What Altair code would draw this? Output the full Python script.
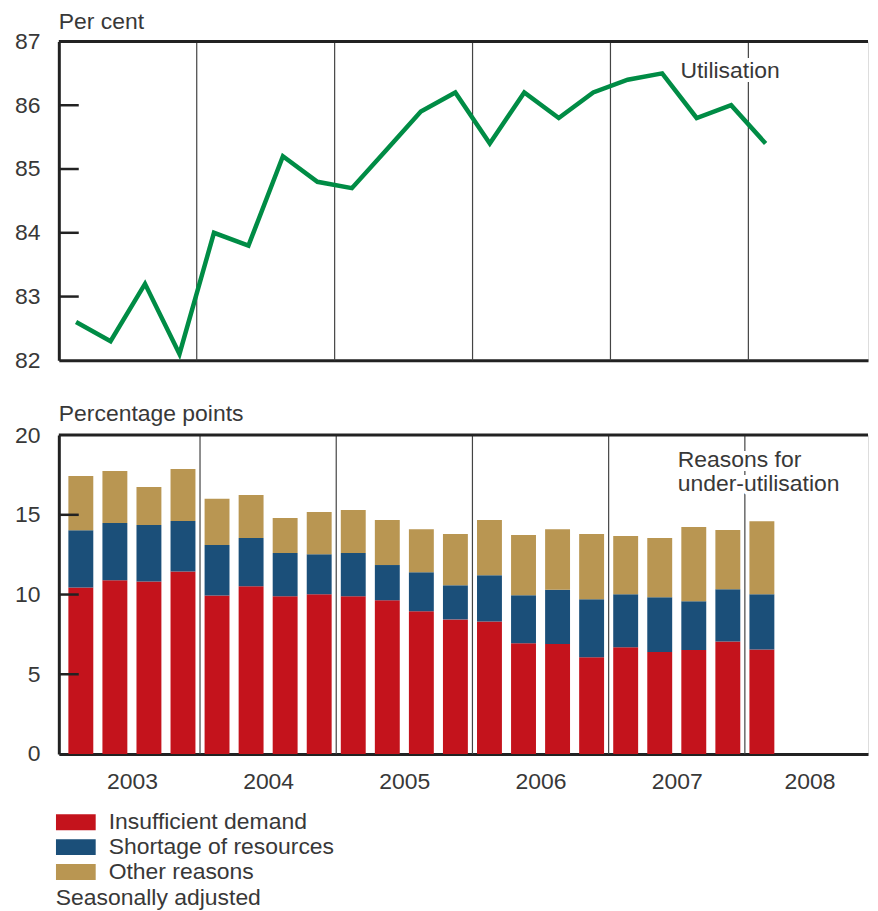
import altair as alt
import pandas as pd

# ---------------- data ----------------
quarters = [f"{y} Q{q}" for y in range(2003, 2008) for q in range(1, 5)] + ["2008 Q1"]
utilisation = [82.6, 82.3, 83.2, 82.1, 84.0, 83.8, 85.2, 84.8, 84.7, 85.3, 85.9,
               86.2, 85.4, 86.2, 85.8, 86.2, 86.4, 86.5, 85.8, 86.0, 85.4]
insufficient_demand = [10.44, 10.90, 10.82, 11.45, 9.94, 10.52, 9.89, 10.02, 9.89, 9.64, 8.95,
                       8.44, 8.31, 6.94, 6.90, 6.06, 6.69, 6.39, 6.52, 7.06, 6.56]
shortage_of_resources = [3.59, 3.58, 3.54, 3.16, 3.16, 3.02, 2.71, 2.51, 2.71, 2.21, 2.45,
                         2.14, 2.90, 3.01, 3.40, 3.64, 3.33, 3.44, 3.06, 3.27, 3.46]
other_reasons = [3.41, 3.27, 2.39, 3.27, 2.90, 2.71, 2.20, 2.65, 2.70, 2.83, 2.70,
                 3.21, 3.47, 3.78, 3.80, 4.09, 3.65, 3.71, 4.65, 3.71, 4.58]
series_names = ["Insufficient demand", "Shortage of resources", "Other reasons"]
series_colors = ["#C4131C", "#1B4F79", "#B99652"]
year_labels = ["2003", "2004", "2005", "2006", "2007", "2008"]
year_label_pos = [2, 6, 10, 14, 18, 21.9]
year_dividers = [4, 8, 12, 16, 20]
top_ticks = [83, 84, 85, 86]
bottom_ticks = [5, 10, 15]

# ---------------- style ----------------
FONT = "Liberation Sans"
FS = 23
TXT = "#383838"
DARK = "#222222"
W = 812
H = 320
X_MAX = 23.47

idx = [i + 0.5 for i in range(len(quarters))]
line_df = pd.DataFrame({"q": idx, "quarter": quarters, "value": utilisation})
rows = []
for k, (name, vals) in enumerate(zip(series_names,
                                     [insufficient_demand, shortage_of_resources, other_reasons])):
    for i, v in enumerate(vals):
        rows.append({"q": idx[i], "quarter": quarters[i], "series": name, "value": v, "ord": k})
bar_df = pd.DataFrame(rows)
div_df = pd.DataFrame({"q": year_dividers})

xscale = alt.Scale(domain=[0, X_MAX], nice=False, zero=False)


def x_enc(labels):
    if labels:
        ax = alt.Axis(values=year_label_pos,
                      labelExpr="'' + (2003 + floor(datum.value / 4))",
                      ticks=False, tickSize=0, labelPadding=17, grid=False, title=None,
                      domainWidth=3, domainColor=DARK, labelFontSize=FS, labelFont=FONT,
                      labelColor=TXT, labelOverlap=False, labelFlush=False)
    else:
        ax = alt.Axis(labels=False, ticks=False, tickSize=0, grid=False, title=None,
                      domainWidth=3, domainColor=DARK)
    return alt.X("q:Q", scale=xscale, axis=ax)


def y_axis(values):
    return alt.Axis(values=values, format="d", ticks=False, tickSize=0, labelPadding=19,
                    grid=False, title=None, domainWidth=3, domainColor=DARK, labelFontSize=FS,
                    labelFont=FONT, labelColor=TXT, minExtent=50, maxExtent=50)


# ---------------- top panel ----------------
yscale_top = alt.Scale(domain=[82, 87], nice=False, zero=False)

top_div = alt.Chart(div_df).mark_rule(color="#444444", strokeWidth=1.2).encode(x=x_enc(False))
top_line = alt.Chart(line_df).mark_line(color="#008C45", strokeWidth=4.5, strokeJoin="miter").encode(
    x=x_enc(False),
    y=alt.Y("value:Q", scale=yscale_top, axis=y_axis([82, 83, 84, 85, 86, 87])),
)
top_ticks_l = alt.Chart(pd.DataFrame({"v": top_ticks})).mark_rule(color=DARK, strokeWidth=2.5).encode(
    y=alt.Y("v:Q", scale=yscale_top), x=alt.value(0), x2=alt.value(20))
top_border = alt.Chart(pd.DataFrame({"a": [0]})).mark_rule(color=DARK, strokeWidth=3).encode(
    y=alt.datum(87, scale=yscale_top))
ann_top = pd.DataFrame({"q": [18.03], "v": [86.53], "t": ["Utilisation"]})
top_halo = alt.Chart(ann_top).mark_text(align="left", baseline="middle", fontSize=FS, font=FONT,
                                        color="white", stroke="white", strokeWidth=8).encode(
    x=alt.X("q:Q", scale=xscale), y=alt.Y("v:Q", scale=yscale_top), text="t:N")
top_text = alt.Chart(ann_top).mark_text(align="left", baseline="middle", fontSize=FS, font=FONT,
                                        color=TXT).encode(
    x=alt.X("q:Q", scale=xscale), y=alt.Y("v:Q", scale=yscale_top), text="t:N")

top = alt.layer(top_div, top_line, top_ticks_l, top_border, top_halo, top_text).properties(
    width=W, height=H,
    title=alt.TitleParams("Per cent", anchor="start", frame="group", fontSize=FS, font=FONT,
                          fontWeight="normal", color=TXT, offset=-3),
)

# ---------------- bottom panel ----------------
yscale_bot = alt.Scale(domain=[0, 20], nice=False, zero=True)

bot_div = alt.Chart(div_df).mark_rule(color="#444444", strokeWidth=1.2).encode(x=x_enc(True))
bars = alt.Chart(bar_df).mark_bar(size=25).encode(
    x=x_enc(True),
    y=alt.Y("value:Q", stack="zero", scale=yscale_bot, axis=y_axis([0, 5, 10, 15, 20])),
    color=alt.Color("series:N", scale=alt.Scale(domain=series_names, range=series_colors),
                    legend=alt.Legend(
                        title="Seasonally adjusted", titleOrient="bottom", orient="none",
                        legendX=-3, legendY=771, symbolType="M-1,-0.4H1V0.4H-1Z",
                        symbolSize=1600, symbolStrokeWidth=0, symbolOpacity=1,
                        labelFontSize=FS, labelFont=FONT, labelColor=TXT, labelOffset=13,
                        labelLimit=0, clipHeight=25,
                        titleFontSize=FS, titleFont=FONT, titleFontWeight="normal",
                        titleColor=TXT, titleLimit=0, rowPadding=0, titlePadding=3,
                        padding=0)),
    order=alt.Order("ord:Q"),
)
bot_ticks_l = alt.Chart(pd.DataFrame({"v": bottom_ticks})).mark_rule(color=DARK, strokeWidth=2.5).encode(
    y=alt.Y("v:Q", scale=yscale_bot), x=alt.value(0), x2=alt.value(20))
bot_border = alt.Chart(pd.DataFrame({"a": [0]})).mark_rule(color=DARK, strokeWidth=3).encode(
    y=alt.datum(20, scale=yscale_bot))
ann_bot = pd.DataFrame({"q": [18.03], "v": [19.1], "t": [["Reasons for", "under-utilisation"]]})
bot_halo = alt.Chart(ann_bot).mark_text(align="left", baseline="top", fontSize=FS, font=FONT,
                                        lineHeight=24, color="white", stroke="white",
                                        strokeWidth=8).encode(
    x=alt.X("q:Q", scale=xscale), y=alt.Y("v:Q", scale=yscale_bot), text="t")
bot_text = alt.Chart(ann_bot).mark_text(align="left", baseline="top", fontSize=FS, font=FONT,
                                        lineHeight=24, color=TXT).encode(
    x=alt.X("q:Q", scale=xscale), y=alt.Y("v:Q", scale=yscale_bot), text="t")

bottom = alt.layer(bot_div, bars, bot_ticks_l, bot_border, bot_halo, bot_text).properties(
    width=W, height=H,
    title=alt.TitleParams("Percentage points", anchor="start", frame="group", fontSize=FS,
                          font=FONT, fontWeight="normal", color=TXT, offset=-2),
)

chart = alt.vconcat(top, bottom, spacing=29).properties(
    padding={"left": 0, "top": 0, "right": 0, "bottom": 0}
).configure_view(stroke=None).configure(background="white")

chart.save("out.html", embed_options={"renderer": "svg", "actions": False})
